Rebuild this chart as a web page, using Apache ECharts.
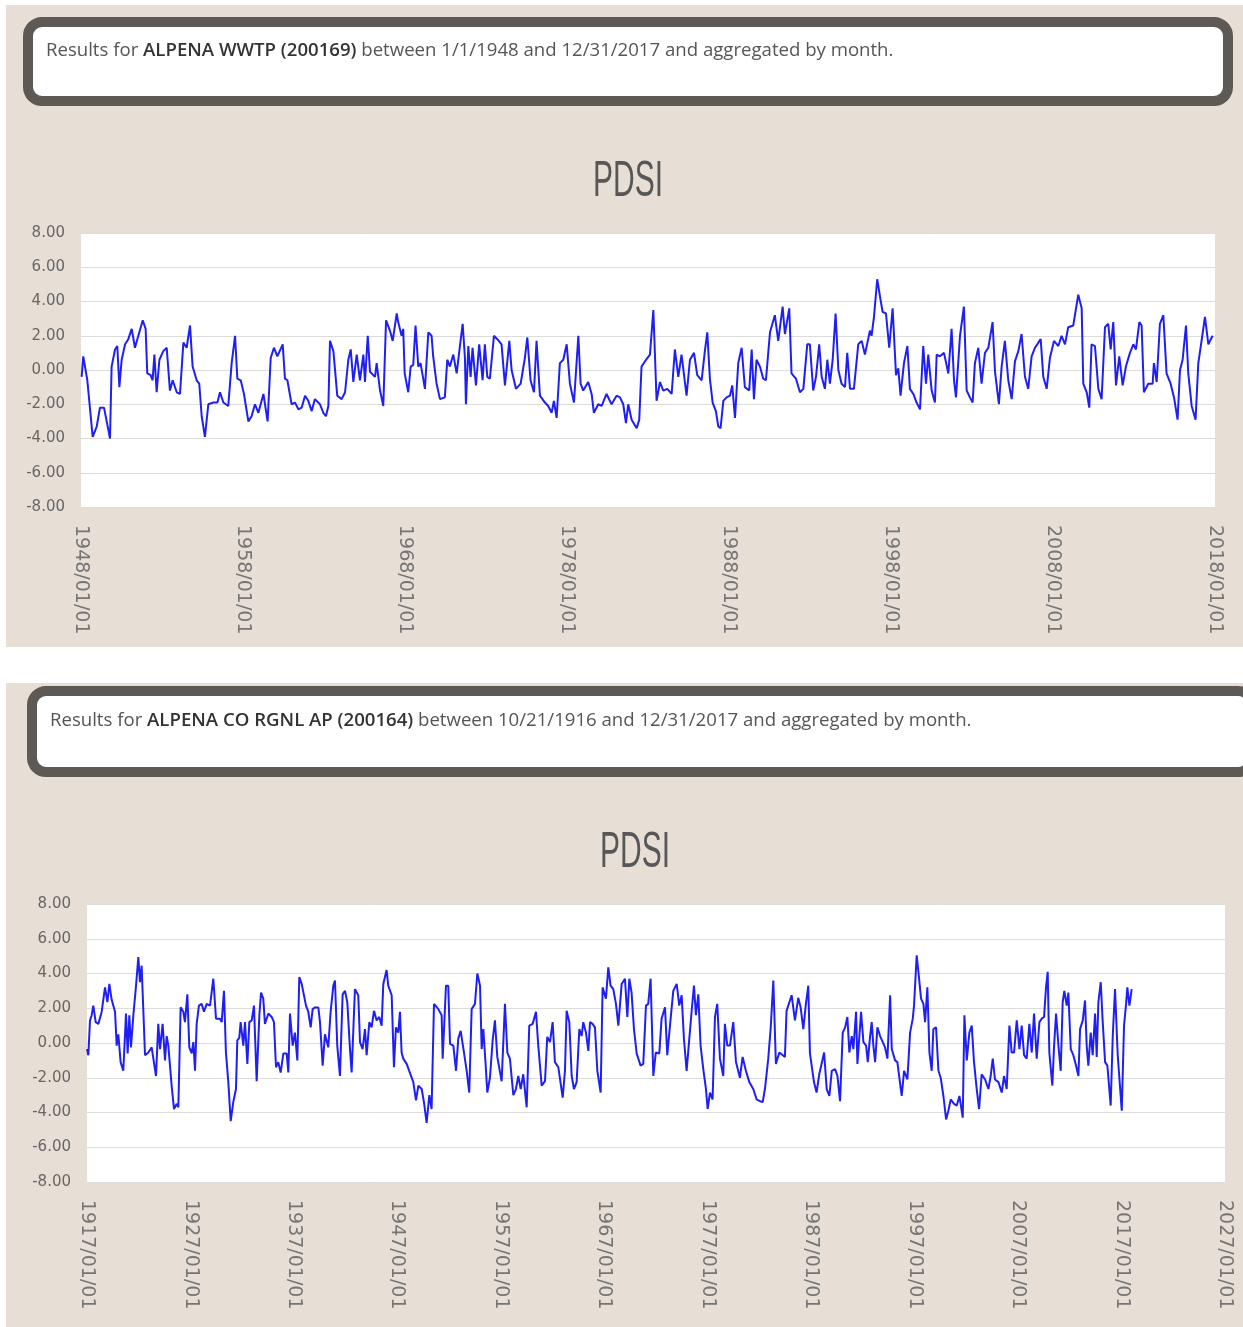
<!DOCTYPE html>
<html>
<head>
<meta charset="utf-8">
<script src="https://cdn.jsdelivr.net/npm/echarts@6/dist/echarts.min.js"></script>
<style>
html,body{margin:0;padding:0;background:#fff;}
#chart{width:1243px;height:1327px;}
</style>
</head>
<body>
<div id="chart"></div>
<script>
// ---- header texts ----
const topStation = 'ALPENA WWTP (200169)';
const topRange = ' between 1/1/1948 and 12/31/2017 and aggregated by month.';
const botStation = 'ALPENA CO RGNL AP (200164)';
const botRange = ' between 10/21/1916 and 12/31/2017 and aggregated by month.';
const chartTitle = 'PDSI';

// ---- axes ----
const topStartYear = 1948, topEndYear = 2018;
const botStartYear = 1917, botEndYear = 2027;
const yMin = -8, yMax = 8, yStep = 2;

// ---- series: [decimal year, PDSI] ----
const topData = [
[1948.04,-0.4],[1948.14,0.8],[1948.39,-0.6],[1948.72,-3.9],[1948.97,-3.3],[1949.17,-2.2],[1949.42,-2.2],[1949.69,-3.5],[1949.79,-4.0],[1949.89,0.2],[1950.10,1.2],[1950.24,1.4],[1950.37,-1.0],[1950.51,0.6],[1950.72,1.5],[1950.92,1.8],[1951.13,2.4],[1951.33,1.3],[1951.54,2.0],[1951.81,2.9],[1951.99,2.4],[1952.09,-0.2],[1952.30,-0.3],[1952.42,-0.6],[1952.53,0.9],[1952.67,-1.3],[1952.84,0.6],[1953.08,1.1],[1953.29,1.3],[1953.49,-1.2],[1953.66,-0.6],[1953.91,-1.3],[1954.11,-1.4],[1954.32,1.6],[1954.52,1.3],[1954.73,2.6],[1954.89,0.2],[1955.14,-0.6],[1955.30,-0.8],[1955.45,-2.7],[1955.65,-3.9],[1955.86,-2.0],[1956.17,-1.9],[1956.42,-1.9],[1956.58,-1.3],[1956.79,-1.9],[1957.09,-2.1],[1957.30,0.4],[1957.51,2.0],[1957.65,-0.5],[1957.86,-0.6],[1958.06,-1.4],[1958.33,-3.0],[1958.53,-2.7],[1958.74,-2.0],[1958.95,-2.5],[1959.26,-1.4],[1959.52,-3.0],[1959.71,0.7],[1959.91,1.3],[1960.12,0.8],[1960.45,1.5],[1960.59,-0.5],[1960.74,-0.6],[1961.00,-2.0],[1961.21,-1.9],[1961.42,-2.3],[1961.62,-2.2],[1961.83,-1.5],[1962.03,-1.8],[1962.24,-2.4],[1962.44,-1.7],[1962.75,-2.0],[1962.96,-2.5],[1963.12,-2.7],[1963.27,-2.1],[1963.37,1.7],[1963.58,1.1],[1963.82,-1.5],[1964.09,-1.7],[1964.30,-1.3],[1964.50,0.6],[1964.65,1.2],[1964.81,-0.7],[1965.02,0.9],[1965.22,-0.6],[1965.43,0.9],[1965.53,-0.7],[1965.70,2.0],[1965.84,-0.1],[1966.15,-0.4],[1966.25,0.4],[1966.46,-1.2],[1966.66,-2.1],[1966.83,2.9],[1967.07,2.3],[1967.24,1.7],[1967.49,3.3],
[1967.58,2.8],[1967.79,2.0],[1967.89,2.4],[1967.98,-0.2],[1968.20,-1.3],[1968.35,0.2],[1968.51,0.3],[1968.65,2.6],[1968.82,0.2],[1968.96,0.4],[1969.23,-1.1],[1969.44,2.2],[1969.64,2.0],[1969.74,0.8],[1969.95,-0.8],[1970.16,-1.7],[1970.46,-1.6],[1970.61,0.6],[1970.77,0.2],[1970.98,0.9],[1971.19,-0.2],[1971.39,1.4],[1971.56,2.7],[1971.70,0.7],[1971.76,-2.0],[1971.91,1.4],[1972.05,-0.4],[1972.17,1.3],[1972.38,-0.9],[1972.58,1.5],[1972.79,-0.6],[1972.93,1.5],[1973.08,-0.4],[1973.24,-0.5],[1973.49,2.0],[1973.70,1.8],[1973.96,1.5],[1974.17,-0.9],[1974.44,1.7],[1974.58,0.0],[1974.85,-1.1],[1975.14,-0.8],[1975.40,0.7],[1975.55,1.9],[1975.75,-0.6],[1975.96,-1.3],[1976.12,1.7],[1976.33,-1.5],[1976.64,-1.9],[1976.84,-2.1],[1977.05,-2.5],[1977.19,-1.8],[1977.36,-2.8],[1977.56,0.4],[1977.77,0.6],[1977.98,1.5],[1978.18,-0.8],[1978.43,-1.9],[1978.70,2.0],[1978.84,-0.8],[1979.00,-1.2],[1979.31,-0.7],[1979.52,-1.4],[1979.66,-2.5],[1979.93,-2.0],[1980.14,-2.1],[1980.44,-1.4],[1980.75,-2.0],[1981.06,-1.5],[1981.27,-1.6],[1981.47,-2.0],[1981.64,-3.1],[1981.78,-2.0],[1981.99,-2.9],[1982.30,-3.4],[1982.46,-2.9],[1982.60,0.2],[1982.81,0.5],[1983.12,0.9],[1983.33,3.5],[1983.53,-1.8],[1983.74,-0.7],[1983.94,-1.2],[1984.19,-1.1],[1984.46,-1.4],[1984.66,1.2],[1984.87,-0.4],[1985.07,0.9],[1985.38,-1.5],[1985.59,0.6],[1985.84,1.0],[1986.04,-0.3],[1986.31,-0.6],[1986.51,1.1],[1986.66,2.2],[1986.82,-0.5],[1986.99,-1.9],[1987.19,-2.4],[1987.34,-3.3],[1987.48,-3.4],[1987.65,-1.8],[1987.85,-1.6],[1988.06,-1.5],[1988.20,-0.9],[1988.37,-2.8],[1988.57,0.4],[1988.78,1.3],[1988.98,-1.0],[1989.25,-1.2],[1989.40,1.2],[1989.54,-1.7],[1989.70,0.6],[1989.91,0.2],[1990.11,-0.5],[1990.28,-0.6],[1990.53,2.2],[1990.83,3.2],[1991.04,1.7],[1991.31,3.7],[1991.45,2.1],[1991.72,3.6],[1991.86,-0.2],[1992.13,-0.5],[1992.38,-1.3],
[1992.59,-1.1],[1992.83,1.5],[1992.99,1.5],[1993.20,-1.2],[1993.37,-0.4],[1993.57,1.5],[1993.72,-0.4],[1993.92,-1.1],[1994.07,0.6],[1994.23,-0.8],[1994.40,0.6],[1994.58,3.3],[1994.75,0.0],[1994.95,-0.8],[1995.16,-1.0],[1995.30,1.0],[1995.47,-1.1],[1995.71,-1.1],[1995.98,1.5],[1996.19,1.7],[1996.39,0.9],[1996.70,2.3],[1996.80,2.0],[1996.95,3.1],[1997.15,5.3],[1997.32,4.3],[1997.48,3.4],[1997.69,3.3],[1997.89,1.3],[1998.10,3.6],[1998.31,-0.3],[1998.45,0.1],[1998.59,-1.5],[1998.80,0.4],[1999.01,1.4],[1999.17,-1.1],[1999.38,-1.4],[1999.58,-1.9],[1999.79,-2.3],[1999.99,1.4],[2000.16,-0.8],[2000.30,0.9],[2000.51,-1.2],[2000.71,-1.9],[2000.82,0.9],[2001.02,0.8],[2001.27,1.0],[2001.54,-0.2],[2001.74,2.4],[2001.89,-0.6],[2002.01,-1.6],[2002.26,2.0],[2002.50,3.7],[2002.67,-1.2],[2002.87,-1.6],[2003.04,-1.9],[2003.18,0.4],[2003.39,1.3],[2003.59,-0.8],[2003.80,1.0],[2004.01,1.3],[2004.27,2.8],[2004.42,-0.1],[2004.66,-2.0],[2004.83,0.2],[2005.03,1.7],[2005.24,-0.6],[2005.45,-1.7],[2005.65,0.5],[2005.86,1.1],[2006.06,2.1],[2006.27,-0.4],[2006.47,-1.1],[2006.68,0.8],[2006.89,1.3],[2007.24,1.8],[2007.40,-0.4],[2007.61,-1.1],[2007.81,0.7],[2008.06,1.7],[2008.33,1.4],[2008.53,2.0],[2008.74,1.5],[2008.94,2.5],[2009.25,2.6],[2009.56,4.4],[2009.77,3.6],[2009.87,-0.8],[2010.08,-1.3],[2010.24,-2.2],[2010.38,1.5],[2010.59,1.4],[2010.80,-1.1],[2011.00,-1.7],[2011.21,2.5],[2011.41,2.7],[2011.56,1.2],[2011.72,2.8],[2011.89,-0.9],[2012.09,0.8],[2012.30,-0.9],[2012.50,0.2],[2012.75,1.0],[2012.96,1.5],[2013.12,1.2],[2013.33,2.8],[2013.47,2.6],[2013.61,-1.3],[2013.88,-0.8],[2014.15,-0.8],[2014.23,0.4],[2014.40,-0.7],[2014.60,2.7],[2014.81,3.2],[2015.01,-0.2],[2015.26,-0.8],[2015.47,-1.6],[2015.69,-2.9],[2015.84,0.0],[2016.00,0.6],[2016.21,2.6],[2016.35,-0.2],[2016.56,-2.1],[2016.80,-2.9],[2016.97,0.4],[2017.17,1.7],[2017.38,3.1],[2017.59,1.5],[2017.85,2.0]
];

const botData = [
[1917.00,-0.35],[1917.13,-0.7],[1917.29,1.3],[1917.45,1.6],[1917.61,2.15],[1917.84,1.2],[1918.10,1.1],[1918.42,1.8],[1918.74,3.2],[1918.97,2.35],[1919.16,3.4],[1919.38,2.5],[1919.55,2.45],[1919.71,1.8],[1919.87,-0.15],[1920.03,0.5],[1920.25,-1.1],[1920.51,-1.6],[1920.77,1.7],[1920.93,-0.6],[1921.09,1.6],[1921.25,-0.25],[1921.48,1.6],[1921.74,3.3],[1921.96,4.95],[1922.12,3.5],[1922.28,4.45],[1922.44,4.35],[1922.61,-0.7],[1922.93,-0.55],[1923.25,-0.25],[1923.41,-0.35],[1923.67,-1.9],[1923.89,1.1],[1924.06,-0.35],[1924.31,1.1],[1924.54,-1.0],[1924.70,0.4],[1924.86,-0.15],[1925.18,-2.45],[1925.41,-3.8],[1925.67,-3.5],[1925.83,-3.7],[1926.05,2.05],[1926.31,1.8],[1926.47,1.2],[1926.70,2.8],[1926.89,-0.25],[1927.12,-0.6],[1927.28,0.05],[1927.44,-1.6],[1927.60,1.1],[1927.82,2.15],[1928.08,2.25],[1928.31,1.8],[1928.57,2.25],[1928.89,2.15],[1929.21,3.7],[1929.47,1.4],[1929.85,1.4],[1930.02,1.2],[1930.24,3.0],[1930.43,-0.55],[1930.66,-2.25],[1930.89,-4.5],[1931.14,-3.4],[1931.40,-2.65],[1931.53,0.15],[1931.72,0.3],[1931.85,1.2],[1932.11,-0.15],[1932.27,1.2],[1932.50,-1.2],[1932.69,1.2],[1932.92,1.3],[1933.14,2.15],[1933.40,-2.2],[1933.66,1.6],[1933.82,2.9],[1934.04,2.55],[1934.20,1.1],[1934.53,1.7],[1934.85,1.5],[1935.07,1.2],[1935.27,-1.4],[1935.49,-1.1],[1935.72,-1.7],[1935.98,-0.6],[1936.30,-0.6],[1936.46,-1.7],[1936.62,1.7],[1936.88,-0.15],[1937.10,0.6],[1937.33,-1.0],[1937.52,3.8],[1937.75,3.4],[1937.97,2.75],[1938.17,2.15],[1938.39,1.8],[1938.62,0.9],[1938.81,1.95],[1939.04,2.05],[1939.36,2.05],[1939.52,1.2],[1939.78,-1.3],[1940.00,0.5],[1940.32,-0.25],[1940.55,1.8],[1940.81,3.3],[1940.97,3.6],[1941.19,-0.15],[1941.45,-1.9],[1941.71,2.8],[1941.94,3.0],[1942.16,2.35],[1942.42,-0.35],[1942.58,-1.7],[1942.90,3.1],[1943.22,2.75],[1943.39,0.05],[1943.64,-0.35],[1943.87,0.8],[1944.03,-0.7],[1944.29,1.2],[1944.51,0.9],[1944.74,1.85],[1945.00,1.3],[1945.25,1.5],[1945.48,1.0],[1945.64,3.4],[1945.96,4.2],[1946.12,3.3],[1946.45,2.75],[1946.67,-1.4],[1946.86,0.9],[1947.09,0.6],[1947.25,1.8],[1947.41,-0.55],[1947.57,-0.9],[1947.90,-1.2],
[1948.54,-2.25],[1948.80,-3.3],[1949.03,-2.45],[1949.35,-2.65],[1949.57,-3.4],[1949.83,-4.6],[1950.09,-3.0],[1950.31,-3.8],[1950.54,2.25],[1950.96,1.95],[1951.28,1.6],[1951.38,-0.9],[1951.70,3.3],[1951.92,3.3],[1952.09,-0.05],[1952.41,-0.15],[1952.67,-1.6],[1952.89,0.25],[1953.12,0.7],[1953.44,-0.55],[1953.70,-1.6],[1953.95,-2.85],[1954.18,1.95],[1954.50,2.25],[1954.73,4.0],[1954.99,3.3],[1955.15,-0.35],[1955.31,0.8],[1955.57,-1.6],[1955.69,-2.85],[1955.95,-2.0],[1956.21,0.15],[1956.43,1.3],[1956.66,-0.8],[1957.08,-2.2],[1957.40,2.25],[1957.63,-0.55],[1957.88,-0.9],[1958.21,-3.0],[1958.46,-2.65],[1958.69,-1.9],[1958.92,-2.65],[1959.17,-1.8],[1959.50,-3.7],[1959.75,1.0],[1960.08,1.1],[1960.40,1.8],[1960.62,-0.15],[1960.95,-2.45],[1961.27,-2.2],[1961.49,0.35],[1961.75,0.05],[1962.01,1.2],[1962.23,-1.1],[1962.56,-1.4],[1962.98,-3.15],[1963.20,-1.6],[1963.36,1.85],[1963.62,1.2],[1963.85,-1.9],[1964.07,-2.65],[1964.33,-2.25],[1964.59,0.8],[1964.81,0.4],[1964.97,1.2],[1965.23,0.6],[1965.46,-0.45],[1965.62,1.2],[1965.87,1.1],[1966.10,0.9],[1966.33,-1.6],[1966.65,-2.85],[1966.84,3.2],[1967.16,2.55],[1967.39,4.35],[1967.61,3.3],[1967.87,3.1],[1968.13,2.25],[1968.36,1.0],[1968.68,3.4],[1969.00,3.7],[1969.23,1.5],[1969.42,3.7],[1969.64,2.9],[1969.87,0.8],[1970.13,-0.6],[1970.51,-1.3],[1970.77,-1.2],[1971.03,2.15],[1971.25,2.25],[1971.48,3.7],[1971.74,-1.9],[1971.98,-0.55],[1972.32,-0.6],[1972.54,1.4],[1972.87,2.05],[1973.09,-0.7],[1973.35,1.0],[1973.67,3.0],[1974.00,3.4],[1974.25,2.15],[1974.48,2.75],[1974.70,0.25],[1974.96,-1.6],[1975.22,0.25],[1975.44,1.8],[1975.67,3.3],[1975.86,1.6],[1976.09,2.8],[1976.31,-0.15],[1976.57,-1.5],[1976.83,-2.65],[1976.99,-3.8],[1977.22,-2.85],[1977.47,-3.25],[1977.70,1.5],[1977.92,2.25],[1978.18,-0.9],[1978.50,-1.9],[1978.66,1.1],[1978.89,-0.15],[1979.15,-0.15],[1979.47,1.2],[1979.73,-1.1],[1980.11,-2.0],[1980.37,-0.8],[1980.69,-1.6],[1981.02,-2.25],[1981.40,-2.65],[1981.73,-3.25],[1982.05,-3.35],[1982.31,-3.4],[1982.53,-2.65],[1982.85,-0.9],[1983.08,0.8],[1983.34,3.6],[1983.59,-1.2],[1983.92,-0.55],[1984.46,-0.8],[1984.62,1.85],[1985.11,2.75],[1985.43,1.3],[1985.75,2.6],[1985.98,2.05],[1986.24,0.8],[1986.49,2.25],[1986.72,3.3],[1986.88,-0.6],[1987.27,-2.25],[1987.52,-2.85],[1987.78,-1.8],
[1988.25,-0.55],[1988.50,-2.65],[1988.76,-3.05],[1988.99,-1.6],[1989.31,-1.5],[1989.54,-1.9],[1989.79,-3.35],[1990.05,0.6],[1990.28,0.9],[1990.50,1.5],[1990.69,-0.55],[1990.92,0.4],[1991.08,-0.35],[1991.34,1.8],[1991.47,-1.2],[1991.66,0.4],[1991.82,1.8],[1992.05,0.05],[1992.31,-0.15],[1992.47,-1.1],[1992.69,0.35],[1992.85,1.2],[1993.01,-0.15],[1993.18,-1.1],[1993.40,0.9],[1993.66,0.4],[1993.92,0.05],[1994.14,-0.25],[1994.37,-0.9],[1994.63,2.75],[1994.79,-0.35],[1995.11,-1.0],[1995.33,-1.1],[1995.75,-3.05],[1995.98,-1.6],[1996.30,-2.1],[1996.56,0.6],[1996.82,1.4],[1996.94,2.15],[1997.20,5.05],[1997.43,3.7],[1997.62,2.55],[1997.85,2.25],[1998.01,1.2],[1998.23,3.2],[1998.43,-0.55],[1998.65,-1.6],[1998.81,0.8],[1999.07,0.9],[1999.30,-1.6],[1999.52,-2.0],[1999.78,-3.05],[2000.04,-4.4],[2000.26,-3.9],[2000.49,-3.25],[2000.81,-3.5],[2001.07,-3.6],[2001.33,-3.05],[2001.65,-4.3],[2001.81,1.6],[2002.04,-1.0],[2002.29,0.6],[2002.52,1.0],[2002.74,-1.1],[2003.00,-2.65],[2003.23,-3.8],[2003.48,-1.8],[2003.81,-2.1],[2004.13,-2.65],[2004.35,-1.9],[2004.55,-0.9],[2004.77,-2.1],[2005.10,-2.25],[2005.42,-2.85],[2005.64,-1.9],[2005.90,-2.65],[2006.16,1.0],[2006.38,-0.55],[2006.61,-0.55],[2006.87,1.3],[2007.13,-0.35],[2007.35,1.0],[2007.58,-0.7],[2007.83,-0.9],[2008.09,1.1],[2008.32,-0.55],[2008.54,1.7],[2008.80,-0.9],[2009.06,1.2],[2009.28,1.4],[2009.51,1.5],[2009.70,3.2],[2009.86,4.1],[2010.02,-0.55],[2010.31,-2.45],[2010.48,-0.15],[2010.67,1.7],[2010.90,-0.15],[2011.12,-1.6],[2011.31,2.35],[2011.47,3.0],[2011.70,2.15],[2011.86,2.9],[2012.09,-0.35],[2012.34,-0.7],[2012.60,-1.3],[2012.83,-1.9],[2012.99,0.8],[2013.25,1.3],[2013.47,2.45],[2013.63,-0.15],[2013.79,-1.3],[2014.02,0.6],[2014.21,-0.7],[2014.44,1.7],[2014.60,-0.8],[2014.76,2.35],[2014.99,3.5],[2015.18,1.2],[2015.41,-1.1],[2015.63,-1.3],[2015.95,-3.6],[2016.15,0.4],[2016.37,3.1],[2016.63,-0.7],[2017.02,-3.9],[2017.24,1.0],[2017.44,2.25],[2017.56,3.2],[2017.76,2.15],[2017.98,3.1]
];

const BEIGE = '#e7dfd6';
const FRAME = '#5d5955';
const LINE = '#1f1ff5';

function makeX(idx, start, end) {
  return {
    type: 'value', gridIndex: idx, min: 0, max: end - start, interval: 10,
    axisLine: { show: false }, axisTick: { show: false }, splitLine: { show: false },
    axisLabel: {
      rotate: -90, margin: 18, color: '#757575', fontSize: 19, fontFamily: 'DejaVu Sans',
      showMinLabel: true, showMaxLabel: true,
      formatter: v => (start + v) + '/01/01'
    }
  };
}
function makeY(idx) {
  return {
    type: 'value', gridIndex: idx, min: yMin, max: yMax, interval: yStep,
    axisLine: { show: false }, axisTick: { show: false },
    splitLine: { show: true, lineStyle: { color: '#dcdcdc', width: 1 } },
    axisLabel: { margin: 16, color: '#666', fontSize: 15, fontFamily: 'DejaVu Sans',
      formatter: v => v.toFixed(2) }
  };
}
function headerText(x, y, station, range) {
  return {
    type: 'text', x: x, y: y,
    style: {
      text: '{n|Results for }{b|' + station + '}{n|' + range + '}',
      verticalAlign: 'middle', align: 'left',
      rich: {
        n: { fontFamily: 'Open Sans', fontSize: 18.6, fill: '#555', color: '#555' },
        b: { fontFamily: 'Open Sans', fontSize: 18.6, fontWeight: 600, fill: '#333', color: '#333' }
      }
    }
  };
}
function frame(x, y, w, h) {
  return { type: 'rect', shape: { x: x, y: y, width: w, height: h, r: 14 },
    style: { fill: '#fff', stroke: FRAME, lineWidth: 10 } };
}
function titleText(x, y) {
  return { type: 'text', x: x, y: y, scaleX: 0.6,
    style: { text: chartTitle, font: '50px "Liberation Sans"', fill: '#575757',
      align: 'center', verticalAlign: 'middle' } };
}

const option = {
  backgroundColor: BEIGE,
  animation: false,
  graphic: { elements: [
    { type: 'rect', shape: { x: 0, y: 0, width: 1243, height: 5 }, style: { fill: '#fff' } },
    { type: 'rect', shape: { x: 0, y: 0, width: 6, height: 1327 }, style: { fill: '#fff' } },
    { type: 'rect', shape: { x: 0, y: 647, width: 1243, height: 36 }, style: { fill: '#fff' } },
    frame(28, 22, 1200, 79),
    frame(32, 691, 1220, 81),
    headerText(46, 51, topStation, topRange),
    headerText(50, 721, botStation, botRange),
    titleText(628, 182),
    titleText(635, 853)
  ]},
  grid: [
    { left: 81, top: 233, width: 1134, height: 274, show: true, backgroundColor: '#fff', borderWidth: 0 },
    { left: 87, top: 904, width: 1138, height: 278, show: true, backgroundColor: '#fff', borderWidth: 0 }
  ],
  xAxis: [ makeX(0, topStartYear, topEndYear), makeX(1, botStartYear, botEndYear) ],
  yAxis: [ makeY(0), makeY(1) ],
  series: [
    { type: 'line', xAxisIndex: 0, yAxisIndex: 0, showSymbol: false, silent: true,
      lineStyle: { color: LINE, width: 2 },
      data: topData.map(d => [d[0] - topStartYear, d[1]]) },
    { type: 'line', xAxisIndex: 1, yAxisIndex: 1, showSymbol: false, silent: true,
      lineStyle: { color: LINE, width: 2 },
      data: botData.map(d => [d[0] - botStartYear, d[1]]) }
  ]
};
const chart = echarts.init(document.getElementById('chart'), null, { renderer: 'canvas' });
chart.setOption(option);
</script>
</body>
</html>
